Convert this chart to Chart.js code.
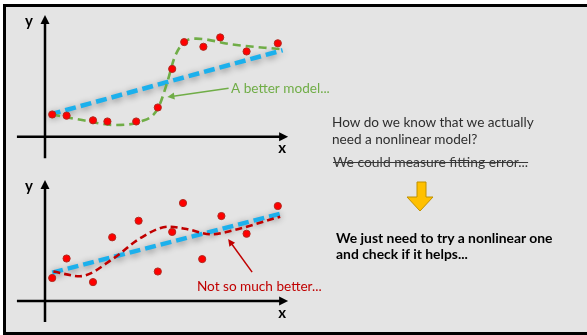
<!DOCTYPE html>
<html>
<head>
<meta charset="utf-8">
<script src="https://cdn.jsdelivr.net/npm/chart.js@4.4.0/dist/chart.umd.min.js"></script>
<style>
  html, body { margin: 0; padding: 0; background: #fff; }
  body { width: 587px; height: 335px; position: relative; overflow: hidden; font-family: Lato, "Open Sans", sans-serif; }
  #slide { position: absolute; left: 3px; top: 4px; width: 600px; height: 325px; background: #e4e4e4;
           border-top: 3px solid #000; border-left: 3px solid #000; border-bottom: 3px solid #000; }
  canvas { position: absolute; left: 0; }
  #topChart { top: 0; }
  #botChart { top: 165px; }
  .t { position: absolute; white-space: nowrap; color: #2e2e2e; font-size: 13.6px; line-height: 17px; }
</style>
</head>
<body>
<div id="slide"></div>
<canvas id="topChart" width="587" height="165"></canvas>
<canvas id="botChart" width="587" height="170"></canvas>

<div class="t" style="left:332px;top:114px;">How do we know that we actually<br>need a nonlinear model?</div>
<div class="t" style="left:333px;top:153px;font-size:13.9px;color:#383838;text-decoration:line-through;">We could measure fitting error...</div>
<svg style="position:absolute;left:0;top:0" width="587" height="335">
  <polygon points="417,182 426,182 426,197 433,197 420,211 407,197 417,197" fill="#ffc000" stroke="#bf9000" stroke-width="1"/>
</svg>
<div class="t" style="left:336px;top:230px;color:#000;font-weight:bold;font-size:13.9px;line-height:16px;">We just need to try a nonlinear one<br>and check if it helps...</div>

<script>
// top panel: data that really needs a nonlinear model
const topPoints = [[0.3, 1.9], [0.9, 1.8], [2.0, 1.4], [2.6, 1.3], [3.8, 1.3], [4.7, 2.5],
                   [5.3, 5.8], [5.8, 8.1], [6.6, 7.7], [7.3, 8.5], [8.4, 7.3], [9.7, 8.0]];
const topLinear = [[0.2, 1.9], [9.9, 7.4]];
const topCurve = [[0.3, 1.9], [1.6, 1.4], [2.9, 1.0], [4.0, 1.3], [4.7, 2.4], [5.1, 4.7],
                  [5.4, 6.8], [5.8, 8.1], [6.3, 8.4], [7.8, 7.9], [9.8, 7.5]];

// bottom panel: noisy data, the curve doesn't help much
const botPoints = [[0.3, 1.95], [0.9, 3.6], [2.0, 1.6], [2.8, 5.4], [3.9, 6.8], [4.7, 2.5],
                   [5.3, 5.85], [5.75, 8.3], [6.55, 3.55], [7.35, 7.2], [8.4, 5.7], [9.7, 8.05]];
const botLinear = [[0.3, 2.4], [9.8, 7.4]];
const botCurve = [[0.35, 2.5], [1.45, 2.1], [2.85, 3.6], [3.95, 5.3], [5.15, 6.3], [5.9, 6.1],
                  [6.95, 5.65], [7.85, 6.0], [9.8, 7.15]];

const xLimits = [-1.2, 10.2];
const yLimits = [-2, 10.5];

const topNote = { text: "A better model...", color: "#70ad47", from: [7.65, 4.15], to: [5.1, 3.4], at: [7.75, 4.15] };
const botNote = { text: "Not so much better...", color: "#c00000", from: [8.63, 2.45], to: [7.63, 5.25], at: [6.33, 1.2] };

const toXY = (arr) => arr.map(([x, y]) => ({ x, y }));

// draws the arrowed x / y axes through the origin
const axesPlugin = {
  id: "axes",
  beforeDatasetsDraw(chart, args, opts) {
    const { ctx, scales: { x, y } } = chart;
    const ox = x.getPixelForValue(0), oy = y.getPixelForValue(0);
    const x0 = x.getPixelForValue(opts.xFrom), x1 = x.getPixelForValue(opts.xTo);
    const yb = y.getPixelForValue(opts.yFrom), yt = y.getPixelForValue(opts.yTo);
    ctx.save();
    ctx.strokeStyle = "#000";
    ctx.fillStyle = "#000";
    ctx.lineWidth = 2.5;
    ctx.beginPath();
    ctx.moveTo(x0, oy); ctx.lineTo(x1 - 6, oy);
    ctx.moveTo(ox, yb); ctx.lineTo(ox, yt + 6);
    ctx.stroke();
    ctx.beginPath();
    ctx.moveTo(x1, oy); ctx.lineTo(x1 - 9, oy - 4.5); ctx.lineTo(x1 - 9, oy + 4.5); ctx.closePath();
    ctx.fill();
    ctx.beginPath();
    ctx.moveTo(ox, yt); ctx.lineTo(ox - 4.5, yt + 9); ctx.lineTo(ox + 4.5, yt + 9); ctx.closePath();
    ctx.fill();
    ctx.font = "bold 15px Lato";
    ctx.textAlign = "center";
    ctx.textBaseline = "middle";
    ctx.fillText("y", ox - 16, yt + 6);
    ctx.fillText("x", x1 - 6, oy + 12);
    ctx.restore();
  },
  // soft grey glow under the linear fit
  beforeDatasetDraw(chart, args) {
    if (chart.data.datasets[args.index].glow) {
      const ctx = chart.ctx;
      ctx.save();
      ctx.shadowColor = "rgba(0,0,0,0.45)";
      ctx.shadowBlur = 7;
      ctx.shadowOffsetY = 2;
    }
  },
  afterDatasetDraw(chart, args) {
    if (chart.data.datasets[args.index].glow) chart.ctx.restore();
  },
  afterDatasetsDraw(chart, args, opts) {
    const note = opts.note;
    if (!note) return;
    const { ctx, scales: { x, y } } = chart;
    const fx = x.getPixelForValue(note.from[0]), fy = y.getPixelForValue(note.from[1]);
    const tx = x.getPixelForValue(note.to[0]), ty = y.getPixelForValue(note.to[1]);
    const ang = Math.atan2(ty - fy, tx - fx);
    ctx.save();
    ctx.strokeStyle = note.color;
    ctx.fillStyle = note.color;
    ctx.lineWidth = 1.5;
    ctx.beginPath();
    ctx.moveTo(fx, fy);
    ctx.lineTo(tx - 4 * Math.cos(ang), ty - 4 * Math.sin(ang));
    ctx.stroke();
    ctx.beginPath();
    ctx.moveTo(tx, ty);
    ctx.lineTo(tx - 7 * Math.cos(ang) + 3.5 * Math.sin(ang), ty - 7 * Math.sin(ang) - 3.5 * Math.cos(ang));
    ctx.lineTo(tx - 7 * Math.cos(ang) - 3.5 * Math.sin(ang), ty - 7 * Math.sin(ang) + 3.5 * Math.cos(ang));
    ctx.closePath();
    ctx.fill();
    ctx.font = "13.6px Lato";
    ctx.textAlign = "left";
    ctx.textBaseline = "middle";
    ctx.fillText(note.text, x.getPixelForValue(note.at[0]), y.getPixelForValue(note.at[1]));
    ctx.restore();
  },
};

function makePanel(canvas, points, curve, linear, curveColor, curveDash, note, axes, padding) {
  return new Chart(canvas, {
    type: "scatter",
    data: {
      datasets: [
        {
          data: toXY(points),
          pointRadius: 3.6,
          pointBackgroundColor: "#ff0000",
          pointBorderColor: "#b02a20",
          pointBorderWidth: 1,
        },
        {
          data: toXY(curve),
          showLine: true,
          pointRadius: 0,
          borderColor: curveColor,
          borderWidth: 2.6,
          borderDash: curveDash,
          cubicInterpolationMode: "monotone",
        },
        {
          data: toXY(linear),
          showLine: true,
          pointRadius: 0,
          borderColor: "#1cb0ec",
          borderWidth: 4.5,
          borderDash: [11, 5],
          glow: true,
        },
      ],
    },
    options: {
      responsive: false,
      animation: false,
      devicePixelRatio: 1,
      layout: { padding },
      scales: {
        x: { type: "linear", display: false, min: xLimits[0], max: xLimits[1] },
        y: { type: "linear", display: false, min: yLimits[0], max: yLimits[1] },
      },
      plugins: {
        legend: { display: false },
        tooltip: { enabled: false },
        axes: { ...axes, note },
      },
    },
    plugins: [axesPlugin],
  });
}

makePanel(document.getElementById("topChart"), topPoints, topCurve, topLinear, "#70ad47", [8, 5], topNote,
  { xFrom: -1.17, xTo: 10.13, yFrom: -1.86, yTo: 10.42 },
  { left: 16.2, top: 14.1, right: 297.2, bottom: 3.4 });

makePanel(document.getElementById("botChart"), botPoints, botCurve, botLinear, "#c00000", [7, 4], botNote,
  { xFrom: -1.17, xTo: 10.13, yFrom: -1.78, yTo: 10.25 },
  { left: 16.2, top: 12.1, right: 297.2, bottom: 10.4 });
</script>
</body>
</html>
